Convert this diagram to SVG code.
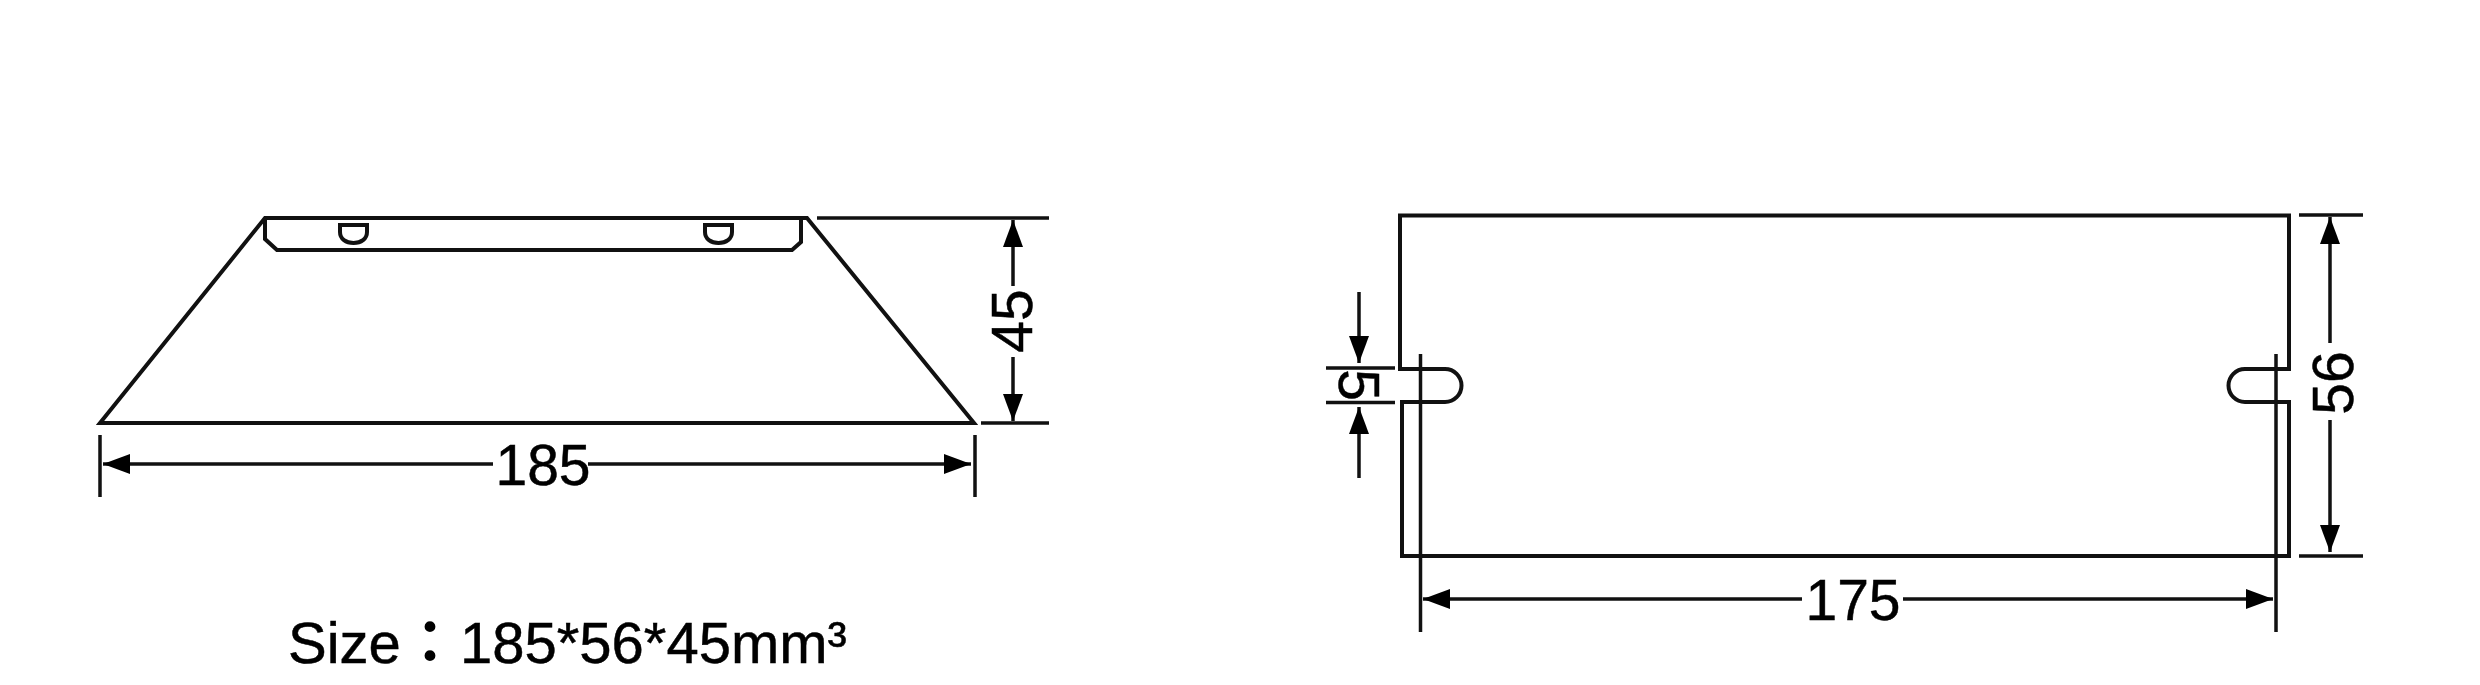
<svg xmlns="http://www.w3.org/2000/svg" width="2480" height="685" viewBox="0 0 2480 685">
<style>
.s{fill:none;stroke:#111;stroke-width:4;stroke-linejoin:miter}
.d{fill:none;stroke:#111;stroke-width:3.500;marker-end:url(#arr)}
.e{fill:none;stroke:#111;stroke-width:3.500}
.t{font-family:"Liberation Sans",Arial,sans-serif;font-size:57px;fill:#000;stroke:#000;stroke-width:0.5px}
</style>
<defs>
<marker id="arr" markerUnits="userSpaceOnUse" markerWidth="27" markerHeight="20" viewBox="0 0 27 20" refX="27" refY="10" orient="auto"><path d="M0,0 L27,10 L0,20 Z" fill="#000"/></marker>
</defs>
<rect width="2480" height="685" fill="#fff"/>
<g id="side-view">
<path class="s" d="M100,423 L265,218 L807,218 L974,423 Z"/>
<path class="s" d="M265,218 V239 L277,250 H792 L801,242 V218"/>
<path class="s" d="M340,225 H367 V232 C367,239 361,243 353.500,243 C346,243 340,239 340,232 Z"/>
<path class="s" d="M705,225 H732 V232 C732,239 726,243 718.500,243 C711,243 705,239 705,232 Z"/>
</g>
<g id="top-view">
<path class="s" d="M1402,402 V556 H2289 V402 H2245 A16.500,16.500 0 0 1 2245,369 H2289 V215.500 H1400 V369 H1445 A16.500,16.500 0 0 1 1445,402 Z"/>
</g>
<g id="connectors">
<path class="e" d="M100,435 V497 M975,435 V497"/>
<path class="d" d="M493,464 H103"/>
<path class="d" d="M588,464 H971"/>
<path class="e" d="M817,218 H1049 M981,423 H1049"/>
<path class="d" d="M1013,286 V220"/>
<path class="d" d="M1013,357 V421"/>
<path class="e" d="M1326,368 H1395 M1326,402.500 H1395"/>
<path class="d" d="M1359,292 V363"/>
<path class="d" d="M1359,478 V407"/>
<path class="e" d="M1420.500,354 V632 M2276,354 V632"/>
<path class="d" d="M1802,599 H1423"/>
<path class="d" d="M1903,599 H2273"/>
<path class="e" d="M2299,215 H2363 M2299,556 H2363"/>
<path class="d" d="M2330,343 V217"/>
<path class="d" d="M2330,420 V552"/>
</g>
<g id="labels">
<text class="t" x="543" y="485" text-anchor="middle">185</text>
<text class="t" text-anchor="middle" transform="translate(1032,321) rotate(-90)">45</text>
<text class="t" text-anchor="middle" transform="translate(1339,385) rotate(90)">5</text>
<text class="t" x="1853" y="620" text-anchor="middle">175</text>
<text class="t" text-anchor="middle" transform="translate(2353,383) rotate(-90)">56</text>
<text class="t" x="288" y="663" style="font-size:58px">Size</text>
<text class="t" x="401" y="663" style="font-size:58px;stroke-width:2px;font-family:'Noto Sans CJK TC','Liberation Sans',sans-serif">：</text>
<text class="t" x="460" y="663" style="font-size:58px">185*56*45mm³</text>
</g>
</svg>
